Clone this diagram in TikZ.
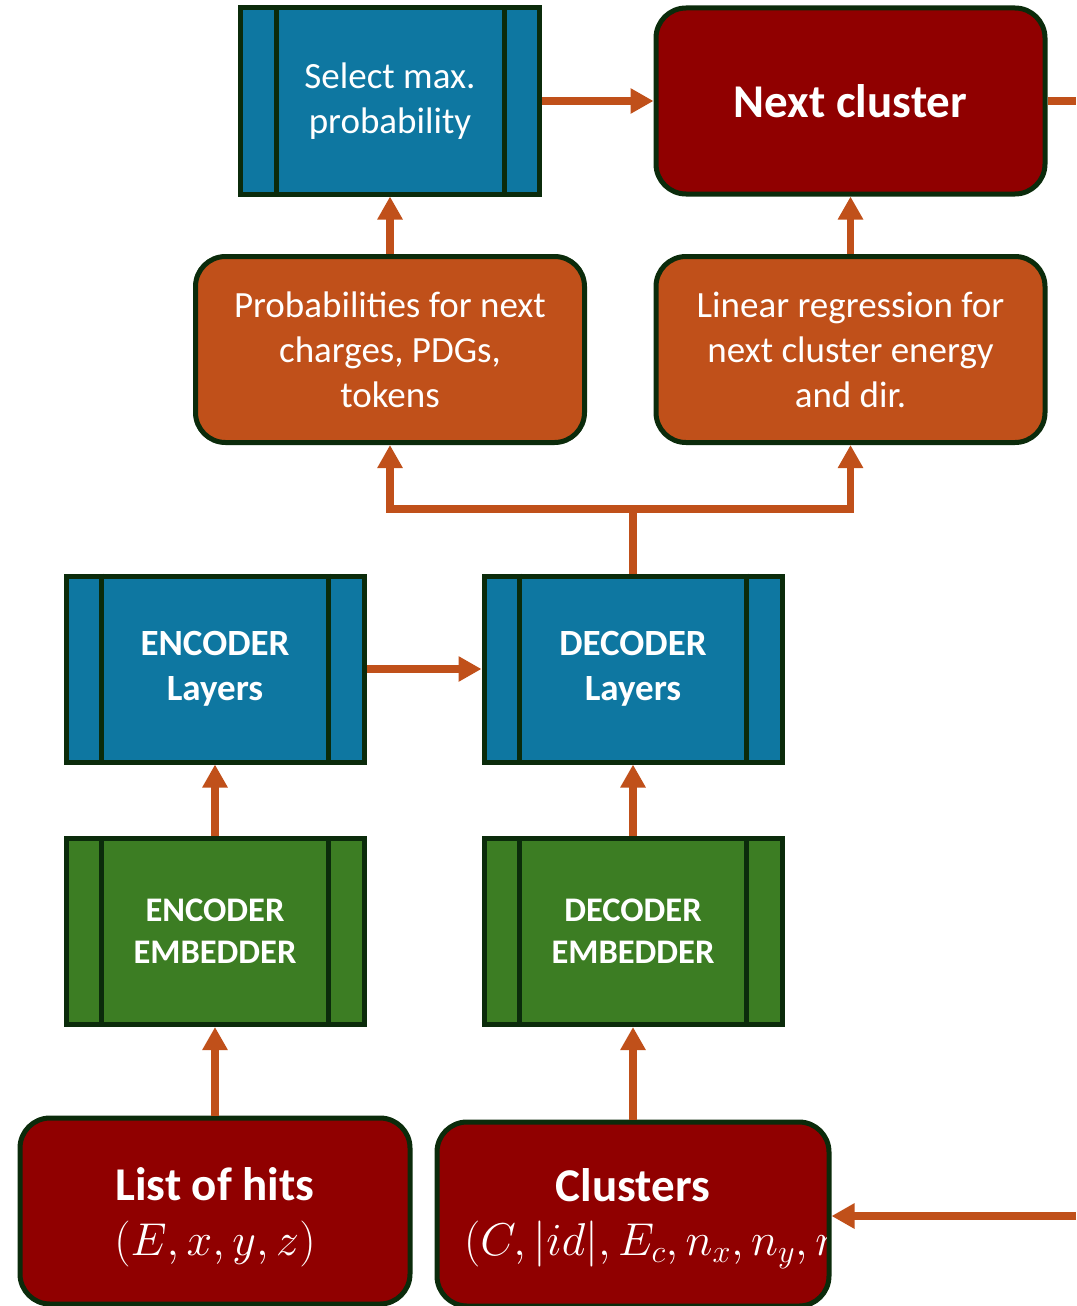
\RequirePackage{fix-cm}
\documentclass[tikz,border=0pt]{standalone}
\usepackage{fontspec}
\setmainfont{Carlito}
\usetikzlibrary{arrows.meta,calc}

\definecolor{edgegreen}{HTML}{0B2B0B}
\definecolor{layerblue}{HTML}{0E77A1}
\definecolor{embgreen}{HTML}{3C7D23}
\definecolor{darkred}{HTML}{900000}
\definecolor{flow}{HTML}{C0501A}

\tikzset{
  box/.style={draw=edgegreen, line width=5pt, text=white, align=center, inner sep=0pt},
  splitbox/.style={box, rectangle, minimum width=298pt, minimum height=186pt},
  layerbox/.style={splitbox, fill=layerblue},
  embbox/.style={splitbox, fill=embgreen},
  roundbox/.style={box, rounded corners=30pt, minimum width=389pt, minimum height=186pt},
  databox/.style={roundbox, fill=darkred},
  headbox/.style={roundbox, fill=flow},
  arr/.style={draw=flow, line width=7.5pt, -{Triangle[length=23pt,width=24pt]}},
  wire/.style={draw=flow, line width=7.5pt},
  divider/.style={draw=edgegreen, line width=5pt},
  plainfont/.style={font=\fontsize{37}{45}\selectfont},
  layerfont/.style={font=\bfseries\fontsize{37}{45}\selectfont},
  embfont/.style={font=\bfseries\fontsize{34.5}{42}\selectfont},
  titlefont/.style={font=\bfseries\fontsize{47}{54}\selectfont},
  mathfont/.style={font=\fontsize{46}{54}\selectfont, text=white, inner sep=0pt},
}

% two vertical bars inside a split box
\newcommand\drawdividers[1]{%
  \draw[divider] ($(#1.north west)+(38,0)$) -- ($(#1.south west)+(38,0)$);
  \draw[divider] ($(#1.north east)+(-38,0)$) -- ($(#1.south east)+(-38,0)$);
}

\begin{document}
\begin{tikzpicture}[x=1pt,y=-1pt]
\useasboundingbox (0,0) rectangle (1076,1306);

% output stage
\node[layerbox, plainfont, minimum width=299pt] (sel) at (390,101) {Select max.\\probability};
\drawdividers{sel}
\node[databox, titlefont] (nxt) at (850.5,101) {Next cluster};

% prediction heads
\node[headbox, plainfont] (prob) at (390,349.5) {Probabilities for next\\charges, PDGs,\\tokens};
\node[headbox, plainfont] (lin) at (850.5,349.5) {Linear regression for\\next cluster energy\\and dir.};

% transformer layers
\node[layerbox, layerfont] (enc) at (215,669) {ENCODER\\Layers};
\drawdividers{enc}
\node[layerbox, layerfont] (dec) at (633,669) {DECODER\\Layers};
\drawdividers{dec}

% embedders
\node[embbox, embfont] (encemb) at (215,931.5) {ENCODER\\EMBEDDER};
\drawdividers{encemb}
\node[embbox, embfont] (decemb) at (633,931.5) {DECODER\\EMBEDDER};
\drawdividers{decemb}

% inputs
\node[databox, minimum width=390pt] (hits) at (215,1211) {};
\node[titlefont, text=white, inner sep=0pt] (hitstitle) at (215,1184) {List of hits};
\node[mathfont] (hitsvars) at (215,1244) {$(E,x,y,z)$};

\node[databox, minimum width=392pt, minimum height=184pt] (clus) at (633,1214) {};
\node[titlefont, text=white, inner sep=0pt] (clustitle) at (633,1185) {Clusters};
\begin{scope}
  \clip ($(clus.north west)+(5,5)$) rectangle ($(clus.south east)+(-5,-5)$);
  \node[mathfont, anchor=west] (clusvars) at (464,1245) {$(C,|id|,E_c,n_x,n_y,n_z)$};
\end{scope}

% loop-back ends at the picture border
\coordinate (loopout) at (1076,101);
\coordinate (loopin) at (1076,1216);
\coordinate (fork) at (633,509);

% connectors
\draw[arr] (sel.east) -- (nxt.west);
\draw[wire] (nxt.east) -- (loopout);
\draw[arr] (loopin) -- (clus.east |- loopin);
\draw[arr] (prob.north) -- (sel.south);
\draw[arr] (lin.north) -- (nxt.south);
\draw[wire] (dec.north) -- (fork);
\draw[arr] (fork) -| (prob.south);
\draw[arr] (fork) -| (lin.south);
\draw[arr] (enc.east) -- (dec.west);
\draw[arr] (encemb.north) -- (enc.south);
\draw[arr] (decemb.north) -- (dec.south);
\draw[arr] (hits.north) -- (encemb.south);
\draw[arr] (clus.north) -- (decemb.south);
\end{tikzpicture}
\end{document}
